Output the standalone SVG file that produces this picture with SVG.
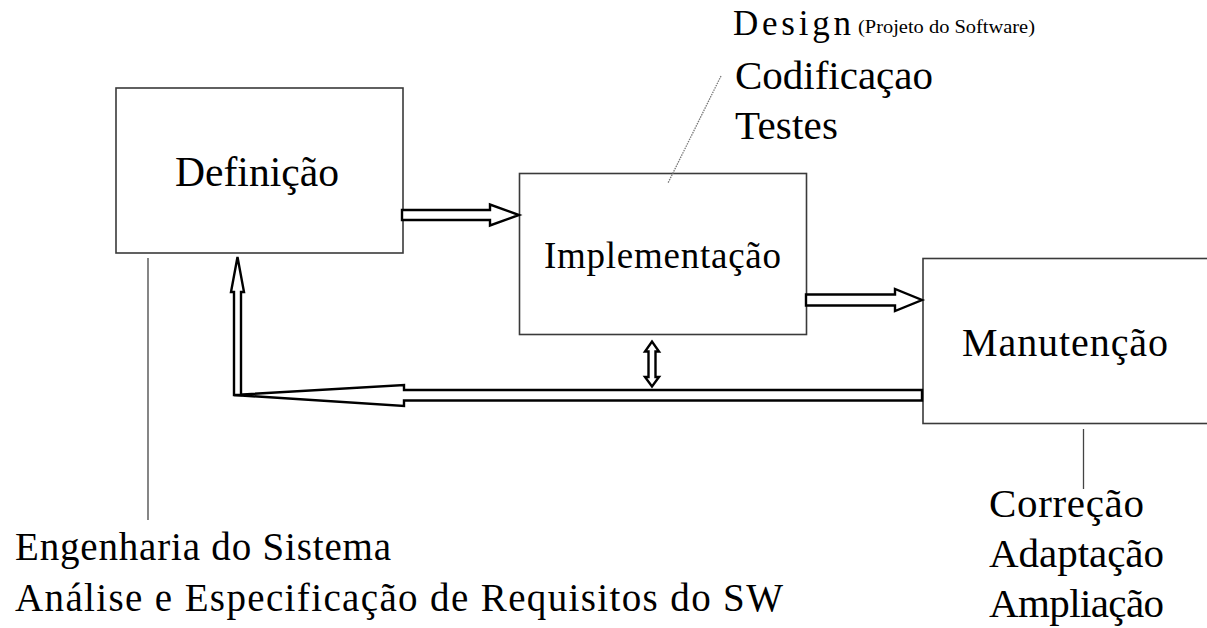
<svg xmlns="http://www.w3.org/2000/svg" width="1207" height="628" viewBox="0 0 1207 628">
  <style>
    .box { fill: #ffffff; stroke: #3a3a3a; stroke-width: 1.6; }
    .lbl { fill: #000; font-family: "Liberation Serif", "Times New Roman", serif; }
    .blk { fill: #ffffff; stroke: #000; stroke-width: 2.4; stroke-linejoin: miter; }
    .lead { stroke: #444; stroke-width: 1.3; fill: none; }
    .dot { stroke: #777; stroke-width: 1.3; stroke-dasharray: 1.5 1; fill: none; }
  </style>
  <rect width="1207" height="628" fill="#ffffff"/>

  <!-- Phase boxes -->
  <g id="definicao">
    <rect class="box" x="116" y="88" width="287" height="165"/>
    <text class="lbl" x="175" y="186" font-size="42" textLength="164" lengthAdjust="spacingAndGlyphs">Definição</text>
  </g>
  <g id="implementacao">
    <rect class="box" x="519.5" y="173.5" width="287" height="161"/>
    <text class="lbl" x="544" y="268" font-size="37" textLength="237" lengthAdjust="spacing">Implementação</text>
  </g>
  <g id="manutencao">
    <rect class="box" x="923" y="258.5" width="300" height="165"/>
    <text class="lbl" x="962" y="356" font-size="40" textLength="206" lengthAdjust="spacing">Manutenção</text>
  </g>

  <!-- Block arrows between phases -->
  <g id="connectors">
    <polygon class="blk" points="402,210 490,210 490,204.5 519,215 490,225.5 490,220 402,220"/>
    <polygon class="blk" points="806,294.5 895,294.5 895,289 922,300 895,311 895,305.5 806,305.5"/>
    <polygon class="blk" points="922,390 404,390 404,385 234,395 404,406 404,400.5 922,400.5"/>
    <polygon class="blk" points="234,395 234,292 231,292 237.5,257 244,292 241,292 241,395"/>
    <polygon class="blk" points="648.5,351.5 645,351.5 652,341.5 659,351.5 655.5,351.5 655.5,377 659,377 652,386.5 645,377 648.5,377"/>
  </g>

  <!-- Leader lines to the annotations -->
  <g id="leaders">
    <line class="lead" x1="148" y1="258" x2="148" y2="520"/>
    <line class="lead" x1="1083.5" y1="429" x2="1083.5" y2="489"/>
    <line class="dot" x1="721" y1="76" x2="668" y2="183"/>
  </g>

  <!-- Annotations -->
  <g id="nota-implementacao">
    <text class="lbl" x="733" y="35" font-size="35" textLength="118" lengthAdjust="spacing">Design</text>
    <text class="lbl" x="858" y="33" font-size="18" textLength="177" lengthAdjust="spacingAndGlyphs">(Projeto do Software)</text>
    <text class="lbl" x="735" y="89" font-size="41" textLength="198" lengthAdjust="spacing">Codificaçao</text>
    <text class="lbl" x="735" y="139" font-size="41" textLength="103" lengthAdjust="spacing">Testes</text>
  </g>
  <g id="nota-definicao">
    <text class="lbl" x="15" y="560" font-size="39" textLength="376" lengthAdjust="spacing">Engenharia do Sistema</text>
    <text class="lbl" x="15" y="611" font-size="39" textLength="768" lengthAdjust="spacing">Análise e Especificação de Requisitos do SW</text>
  </g>
  <g id="nota-manutencao">
    <text class="lbl" x="989" y="517" font-size="41" textLength="155" lengthAdjust="spacing">Correção</text>
    <text class="lbl" x="989" y="567" font-size="41" textLength="175" lengthAdjust="spacing">Adaptação</text>
    <text class="lbl" x="989" y="617" font-size="41" textLength="175" lengthAdjust="spacing">Ampliação</text>
  </g>
</svg>
